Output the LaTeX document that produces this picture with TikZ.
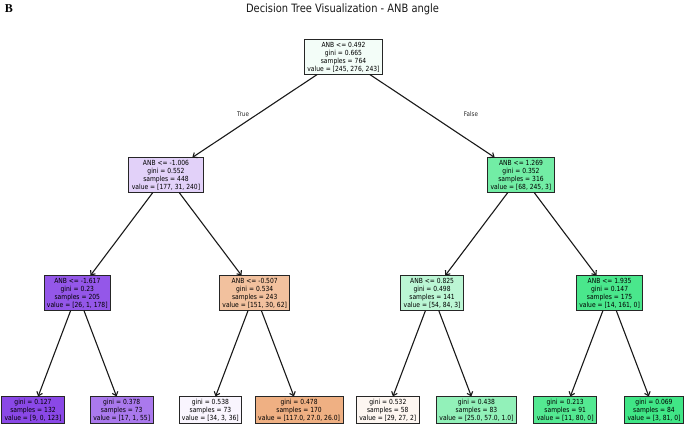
\documentclass[tikz,border=0pt]{standalone}
\usepackage{fontspec}
\usetikzlibrary{arrows.meta}
\newfontfamily\treefont[FakeStretch=0.86]{DejaVu Sans}
\newfontfamily\panelfont{Liberation Serif}
\definecolor{cRoot}{RGB}{243,253,248}
\definecolor{cA}{RGB}{226,209,249}
\definecolor{cB}{RGB}{114,237,165}
\definecolor{cAA}{RGB}{148,87,233}
\definecolor{cAB}{RGB}{242,193,158}
\definecolor{cBA}{RGB}{187,246,212}
\definecolor{cBB}{RGB}{74,231,140}
\definecolor{cL1}{RGB}{138,72,231}
\definecolor{cL2}{RGB}{170,121,237}
\definecolor{cL3}{RGB}{249,245,254}
\definecolor{cL4}{RGB}{239,176,131}
\definecolor{cL5}{RGB}{253,246,241}
\definecolor{cL6}{RGB}{146,241,185}
\definecolor{cL7}{RGB}{84,233,146}
\definecolor{cL8}{RGB}{64,230,134}
\tikzset{
  treenode/.style={draw=black!85, line width=0.9pt, align=center,
    font=\treefont\fontsize{7}{8}\selectfont, text=black,
    inner xsep=3pt, inner ysep=2pt},
  edge/.style={draw=black!90, line width=1.1pt, -{Straight Barb[length=3.5pt,width=6pt]}},
  edgelabel/.style={font=\treefont\fontsize{6.5}{7}\selectfont, text=black!85}
}
\begin{document}
\begin{tikzpicture}[x=1pt,y=-1pt]
\useasboundingbox (0,0) rectangle (685,425);
\node[font=\panelfont\bfseries\fontsize{12}{12}\selectfont] (panel) at (9,9) {B};
\node[font=\treefont\fontsize{11.5}{12}\selectfont, text=black!90] (title) at (342.5,9) {Decision Tree Visualization - ANB angle};

\node[treenode, fill=cRoot] (root) at (343.5,57) {ANB <= 0.492\\gini = 0.665\\samples = 764\\value = [245, 276, 243]};
\node[treenode, fill=cA] (a) at (166,175) {ANB <= -1.006\\gini = 0.552\\samples = 448\\value = [177, 31, 240]};
\node[treenode, fill=cB] (b) at (521,175) {ANB <= 1.269\\gini = 0.352\\samples = 316\\value = [68, 245, 3]};
\node[treenode, fill=cAA] (aa) at (77.3,293) {ANB <= -1.617\\gini = 0.23\\samples = 205\\value = [26, 1, 178]};
\node[treenode, fill=cAB] (ab) at (254.7,293) {ANB <= -0.507\\gini = 0.534\\samples = 243\\value = [151, 30, 62]};
\node[treenode, fill=cBA] (ba) at (432.1,293) {ANB <= 0.825\\gini = 0.498\\samples = 141\\value = [54, 84, 3]};
\node[treenode, fill=cBB] (bb) at (609.6,293) {ANB <= 1.935\\gini = 0.147\\samples = 175\\value = [14, 161, 0]};

\node[treenode, fill=cL1] (l1) at (33,410) {gini = 0.127\\samples = 132\\value = [9, 0, 123]};
\node[treenode, fill=cL2] (l2) at (121.7,410) {gini = 0.378\\samples = 73\\value = [17, 1, 55]};
\node[treenode, fill=cL3] (l3) at (210.4,410) {gini = 0.538\\samples = 73\\value = [34, 3, 36]};
\node[treenode, fill=cL4] (l4) at (299.1,410) {gini = 0.478\\samples = 170\\value = [117.0, 27.0, 26.0]};
\node[treenode, fill=cL5] (l5) at (387.8,410) {gini = 0.532\\samples = 58\\value = [29, 27, 2]};
\node[treenode, fill=cL6] (l6) at (476.5,410) {gini = 0.438\\samples = 83\\value = [25.0, 57.0, 1.0]};
\node[treenode, fill=cL7] (l7) at (565.2,410) {gini = 0.213\\samples = 91\\value = [11, 80, 0]};
\node[treenode, fill=cL8] (l8) at (654,410) {gini = 0.069\\samples = 84\\value = [3, 81, 0]};

\draw[edge] (root) -- (a);
\draw[edge] (root) -- (b);
\draw[edge] (a) -- (aa);
\draw[edge] (a) -- (ab);
\draw[edge] (b) -- (ba);
\draw[edge] (b) -- (bb);
\draw[edge] (aa) -- (l1);
\draw[edge] (aa) -- (l2);
\draw[edge] (ab) -- (l3);
\draw[edge] (ab) -- (l4);
\draw[edge] (ba) -- (l5);
\draw[edge] (ba) -- (l6);
\draw[edge] (bb) -- (l7);
\draw[edge] (bb) -- (l8);

\node[edgelabel] (truelbl) at (243,114) {True};
\node[edgelabel] (falselbl) at (471,114) {False};
\end{tikzpicture}
\end{document}
